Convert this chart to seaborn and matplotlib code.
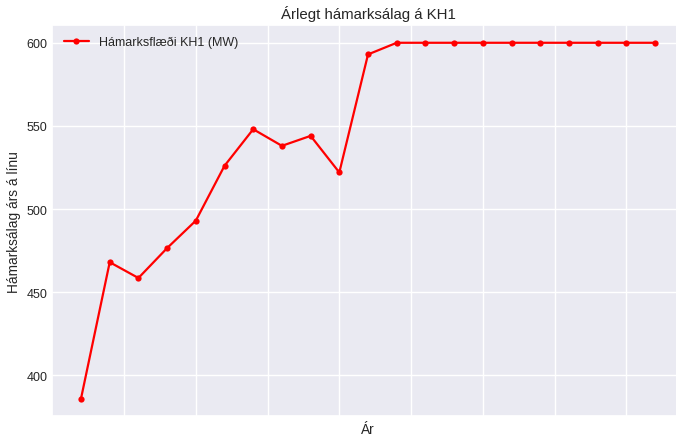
import matplotlib
matplotlib.use("Agg")
import matplotlib.pyplot as plt
import numpy as np
import pandas as pd
import seaborn as sns

# Hámarksálag per ár (21 ár, merki á x-ás eru falin í upprunalegu myndinni)
ar_nr = list(range(21))
hamarksalag = [386, 468, 458.5, 476.5, 493, 526, 548, 538, 544, 522, 593,
               600, 600, 600, 600, 600, 600, 600, 600, 600, 600]
lina_heiti = "Hámarksflæði KH1 (MW)"
titill = "Árlegt hámarksálag á KH1"
x_heiti = "Ár"
y_heiti = "Hámarksálag árs á línu"

sns.set_theme(style="darkgrid")
plt.rcParams["font.family"] = ["Liberation Sans", "DejaVu Sans"]
plt.rcParams["text.color"] = ".15"
plt.rcParams["axes.labelcolor"] = ".15"
plt.rcParams["ytick.color"] = ".15"

df = pd.DataFrame({"ar": ar_nr, "gildi": hamarksalag})

fig = plt.figure(figsize=(6.76, 4.39), dpi=100)
# the original image is cut off on the right, so the axes run past the edge
ax = fig.add_axes([0.0774, 0.0494, 0.934, 0.8914])
sns.lineplot(data=df, x="ar", y="gildi", ax=ax, color="red", linewidth=1.6,
             marker="o", markersize=4.5, markeredgewidth=0, label=lina_heiti)

ax.set_xlim(-1, 21)
ax.set_xticks(np.arange(1.5, 21, 2.5))
ax.tick_params(axis="x", length=0, labelbottom=False)
ax.set_yticks([400, 450, 500, 550, 600])
ax.tick_params(axis="y", length=0, labelsize=9, pad=3.5)
ax.set_title(titill, fontsize=10.8, pad=5)
ax.set_xlabel(x_heiti, fontsize=9.9, labelpad=4)
ax.set_ylabel(y_heiti, fontsize=9.9, labelpad=4)
ax.legend(loc="upper left", frameon=False, fontsize=9)

fig.savefig("out.png", dpi=100)
